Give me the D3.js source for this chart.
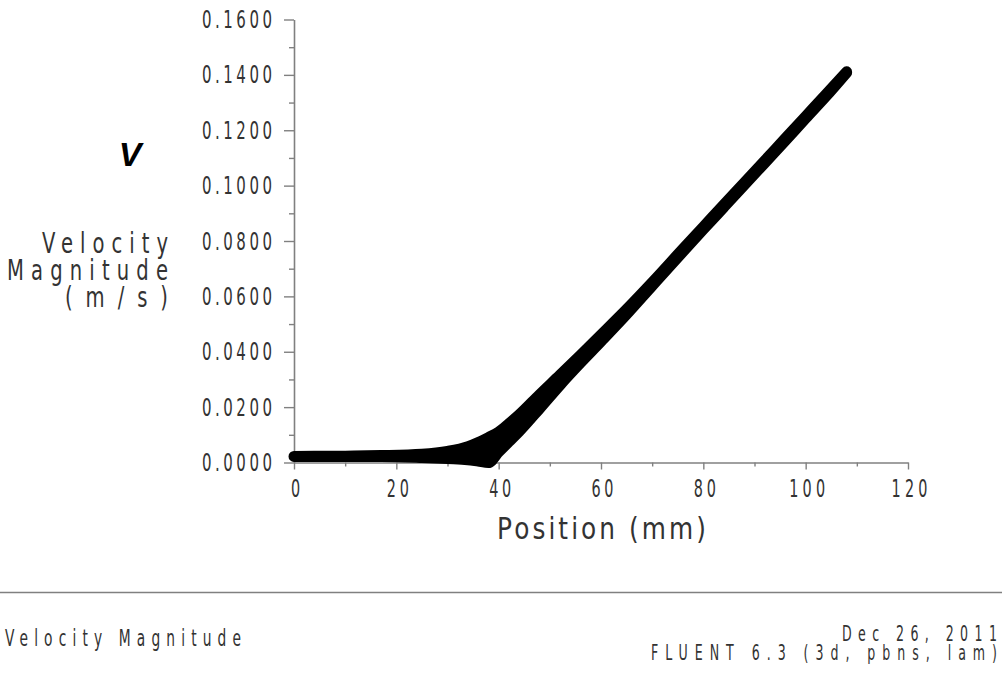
<!DOCTYPE html>
<html>
<head>
<meta charset="utf-8">
<script src="https://d3js.org/d3.v7.min.js"></script>
<style>
  html, body { margin: 0; padding: 0; background: #fff; }
  svg { display: block; }
</style>
</head>
<body>
<svg id="chart" width="1002" height="677"></svg>
<script>
// ---- data ----
const positionMm = [0, 10, 17, 25, 30, 34, 36, 38, 40, 42, 44, 48, 52, 56, 60, 65, 70, 76, 80, 84, 88, 92, 96, 100, 104, 108];
const velocityUpper = [0.0022, 0.0023, 0.0025, 0.0030, 0.0040, 0.0057, 0.0072, 0.0090, 0.0110, 0.0140, 0.0172, 0.0245, 0.0316, 0.0388, 0.0461, 0.0553, 0.0650, 0.0771, 0.0851, 0.0931, 0.1010, 0.1090, 0.1170, 0.1250, 0.1330, 0.1411];
const velocityLower = [0.0022, 0.0022, 0.0022, 0.0018, 0.0014, 0.0010, 0.0005, 0.0000, 0.0038, 0.0075, 0.0112, 0.0195, 0.0280, 0.0360, 0.0437, 0.0535, 0.0638, 0.0761, 0.0842, 0.0922, 0.1002, 0.1082, 0.1162, 0.1243, 0.1323, 0.1408];
const xMajorTicks = [0, 20, 40, 60, 80, 100, 120];
const xMinorTicks = [10, 30, 50, 70, 90, 110];
const yMajorTicks = [0, 0.02, 0.04, 0.06, 0.08, 0.10, 0.12, 0.14, 0.16];
const yMinorTicks = [0.01, 0.03, 0.05, 0.07, 0.09, 0.11, 0.13, 0.15];
const yTitleLines = ["Velocity", "Magnitude", "(m/s)"];
const xTitle = "Position (mm)";
const footerLeft = "Velocity Magnitude";
const footerRight = ["Dec 26, 2011", "FLUENT 6.3 (3d, pbns, lam)"];

const svg = d3.select("#chart");
const axisColor = "#808080";
const textColor = "#333";
const fontFam = "DejaVu Sans, sans-serif";

const x = d3.scaleLinear().domain([0, 120]).range([294, 908]);
const y = d3.scaleLinear().domain([0, 0.16]).range([462.5, 19.5]);

// narrow text helper: squeeze horizontally, keep given width in screen px
function narrow(sel, sx, xPx, widthPx) {
  sel.attr("transform", `scale(${sx},1)`)
     .attr("x", xPx / sx)
     .attr("textLength", widthPx / sx)
     .attr("lengthAdjust", "spacing");
}

// ---- axes ----
function styleAxis(g) {
  g.selectAll("path.domain").attr("stroke", axisColor).attr("stroke-width", 1.6);
  g.selectAll(".tick line").attr("stroke", axisColor).attr("stroke-width", 1.4);
}

const gxMinor = svg.append("g").attr("transform", `translate(0,${y(0)})`)
  .call(d3.axisBottom(x).tickValues(xMinorTicks).tickSize(4).tickFormat(""));
styleAxis(gxMinor);
gxMinor.select("path.domain").remove();

const gx = svg.append("g").attr("transform", `translate(0,${y(0)})`)
  .call(d3.axisBottom(x).tickValues(xMajorTicks).tickSize(7).tickSizeOuter(0).tickPadding(10).tickFormat(d3.format("d")));
styleAxis(gx);
gx.selectAll(".tick text")
  .attr("font-family", fontFam).attr("font-size", 24).attr("fill", textColor)
  .each(function(d) {
    const s = d3.format("d")(d);
    narrow(d3.select(this), 0.6, 1, 14 * (s.length - 1) + 8);
  });

const gyMinor = svg.append("g").attr("transform", `translate(${x(0)},0)`)
  .call(d3.axisLeft(y).tickValues(yMinorTicks).tickSize(5).tickFormat(""));
styleAxis(gyMinor);
gyMinor.select("path.domain").remove();

const gy = svg.append("g").attr("transform", `translate(${x(0)},0)`)
  .call(d3.axisLeft(y).tickValues(yMajorTicks).tickSize(10).tickSizeOuter(0).tickPadding(12).tickFormat(d3.format(".4f")));
styleAxis(gy);
gy.selectAll(".tick text")
  .attr("font-family", fontFam).attr("font-size", 25).attr("fill", textColor)
  .each(function() { narrow(d3.select(this), 0.6, -22, 70); });

// ---- data band ----
const area = d3.area()
  .x((d, i) => x(positionMm[i]))
  .y0((d, i) => y(velocityLower[i]))
  .y1((d, i) => y(velocityUpper[i]))
  .curve(d3.curveMonotoneX);

svg.append("path")
  .datum(positionMm)
  .attr("d", area)
  .attr("fill", "#000")
  .attr("stroke", "#000")
  .attr("stroke-width", 11)
  .attr("stroke-linejoin", "round")
  .attr("stroke-linecap", "round");

// ---- titles ----
svg.append("text")
  .attr("y", 539)
  .attr("font-family", fontFam).attr("font-size", 31).attr("fill", textColor)
  .text(xTitle)
  .call(narrow, 0.8, 497, 209);

const yTitleRight = 168;
const yTitleWidths = [126, 161, 103];
yTitleLines.forEach((t, i) => {
  svg.append("text")
    .attr("y", 253 + i * 27)
    .attr("font-family", fontFam).attr("font-size", 28).attr("fill", textColor)
    .text(t)
    .call(narrow, 0.7, yTitleRight - yTitleWidths[i], yTitleWidths[i]);
});

svg.append("text")
  .attr("x", 130).attr("y", 166)
  .attr("text-anchor", "middle")
  .attr("font-family", "Liberation Sans, Arial, sans-serif")
  .attr("font-size", 34).attr("font-weight", "bold").attr("font-style", "italic")
  .attr("fill", "#000")
  .text("V");

// ---- footer ----
svg.append("line")
  .attr("x1", 0).attr("x2", 1002).attr("y1", 592.5).attr("y2", 592.5)
  .attr("stroke", axisColor).attr("stroke-width", 1.5);

svg.append("text")
  .attr("y", 646)
  .attr("font-family", fontFam).attr("font-size", 23).attr("fill", textColor)
  .text(footerLeft)
  .call(narrow, 0.6, 5, 236);

const footerWidths = [155, 346];
footerRight.forEach((t, i) => {
  svg.append("text")
    .attr("y", 641 + i * 19)
    .attr("font-family", fontFam).attr("font-size", 21).attr("fill", textColor)
    .text(t)
    .call(narrow, 0.6, 997 - footerWidths[i], footerWidths[i]);
});
</script>
</body>
</html>
